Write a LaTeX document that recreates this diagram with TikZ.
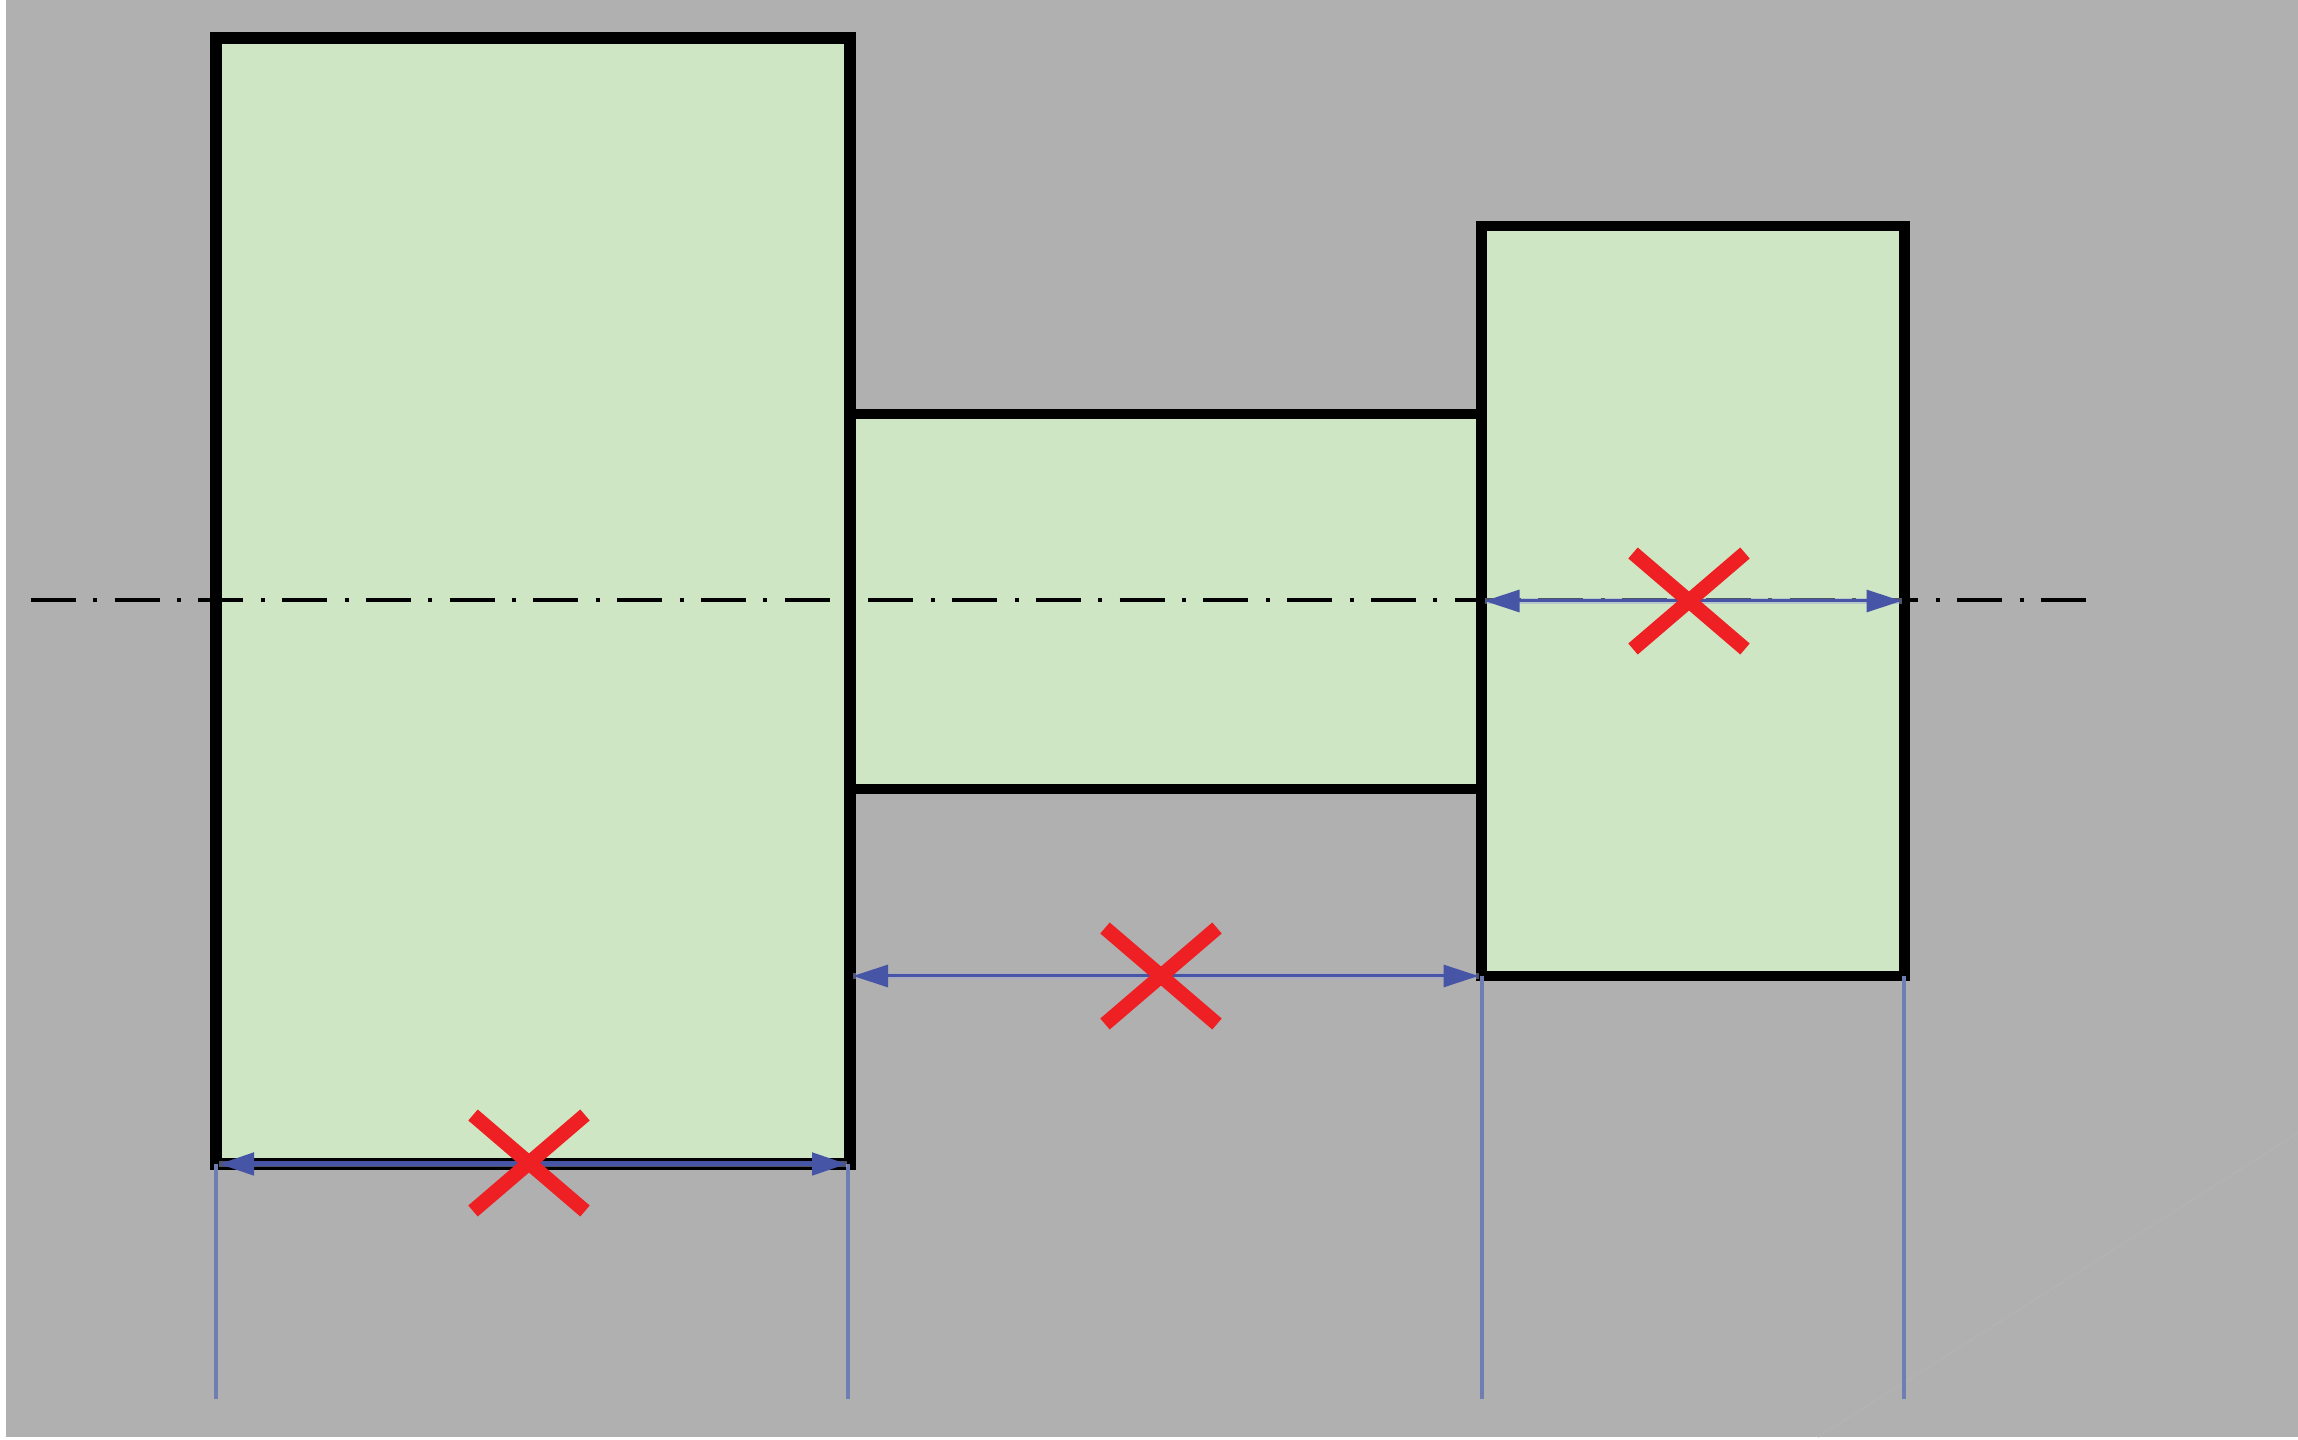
\documentclass[tikz,border=0pt]{standalone}
\usetikzlibrary{positioning,calc,arrows.meta}
\definecolor{platebg}{HTML}{B0B0B0}
\definecolor{platestreak}{HTML}{B3B3B3}
\definecolor{partfill}{HTML}{CFE6C4}
\definecolor{dimblue}{HTML}{4655A5}
\definecolor{dimhalo}{HTML}{A3A9CC}
\definecolor{extblue}{HTML}{6F7DB3}
\definecolor{crossred}{HTML}{EE2024}
\begin{document}
\begin{tikzpicture}[x=0.1mm,y=-0.1mm,
    part/.style = {draw=black,fill=partfill,line width=1.05mm,inner sep=0,outer sep=0,anchor=north west},
    axis/.style = {black,line width=0.42mm,dash pattern=on 4.5mm off 1.74mm on 0.4mm off 1.735mm},
    dimline/.style = {dimblue,line width=0.3mm,shorten <=0.3mm,shorten >=0.3mm,
      {Triangle[length=3.5mm,width=2.2mm]}-{Triangle[length=3.5mm,width=2.2mm]},
      preaction={draw=dimhalo,-,line width=0.6mm,opacity=0.5}},
    extline/.style = {extblue,line width=0.45mm},
    crossmark/.style = {crossred,line width=1.45mm}]
    \useasboundingbox (0,0) rectangle (2298,1440);
    \fill [platebg] (6,0) rectangle (2298,1437);
    \draw [platestreak,line width=0.15mm] (1818,1437) -- (2298,1133);
    % the three steps of the shaft
    \node [part,minimum width=42.3mm,minimum height=75mm] (head) at (1481.5,226) {};
    \node [part,minimum width=63.15mm,minimum height=37.5mm] (neck) at (850,414) {};
    \node [part,line width=1.2mm,minimum width=63.4mm,minimum height=112.6mm] (body) at (216,38) {};
    \draw [axis] (31,600) -- (2086,600);
    % extension lines
    \coordinate (bodyleft) at (216,1399);
    \coordinate (bodyright) at (848,1399);
    \coordinate (headleft) at (1482,1399);
    \coordinate (headright) at (1904,1399);
    \draw [extline] (bodyleft |- body.south) -- (bodyleft);
    \draw [extline] (bodyright |- body.south) -- (bodyright);
    \draw [extline] (headleft |- head.south) -- (headleft);
    \draw [extline] (headright |- head.south) -- (headright);
    % dimensions
    \draw [dimline] (head.west |- 0,601) -- (head.east |- 0,601);
    \draw [dimline] (neck.south west |- head.south) -- (head.south west);
    \draw [dimline,line width=0.5mm] (body.south west) -- (body.south east);
    % crossed out values
    \foreach \cx/\cy in {1689/601,1161/976,529/1163} {
      \draw [crossmark] (\cx-56,\cy-48) -- (\cx+56,\cy+48);
      \draw [crossmark] (\cx-56,\cy+48) -- (\cx+56,\cy-48);
    }
\end{tikzpicture}
\end{document}
